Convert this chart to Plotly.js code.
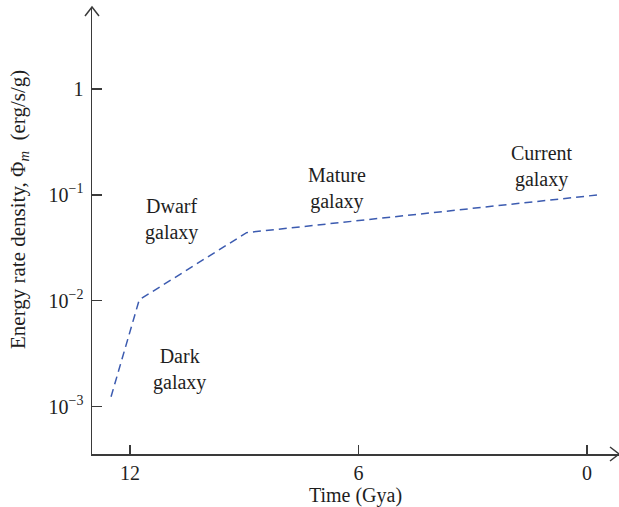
<!DOCTYPE html>
<html>
<head>
<meta charset="utf-8">
<script src="https://cdn.plot.ly/plotly-3.0.1.min.js"></script>
<style>html,body{margin:0;padding:0;background:#fff}#chart{width:619px;height:507px}</style>
</head>
<body>
<div id="chart"></div>
<script>
// Time (Gya) and energy rate density (erg/s/g)
const timeGya = [12.5, 11.76, 8.94, -0.3];
const energyRate = [0.00124, 0.0102, 0.044, 0.1];

const xTickVals = [12, 6, 0];
const xTickText = ["12", "6", "0"];
const yTickVals = [1, 0.1, 0.01, 0.001];
const yTickText = ["1", "10<sup>−1</sup>", "10<sup>−2</sup>", "10<sup>−3</sup>"];

const labelText = ["Dwarf<br>galaxy", "Dark<br>galaxy", "Mature<br>galaxy", "Current<br>galaxy"];
const labelX = [10.9, 10.69, 6.56, 1.18];
const labelY = [0.058, 0.00222, 0.1138, 0.1854];

const serif = "Liberation Serif, Times New Roman, serif";
const axisColor = "#3a3a3a";
const textColor = "#1e1e1e";

const trace = {
  x: timeGya, y: energyRate, type: "scatter", mode: "lines",
  line: {color: "#3c5bb0", width: 1.5, dash: "8px,5px"},
  hoverinfo: "skip"
};

const annotations = labelText.map((t, i) => ({
  text: t, x: labelX[i], y: Math.log10(labelY[i]), xref: "x", yref: "y",
  showarrow: false, font: {family: serif, size: 20, color: textColor}, align: "center"
}));
annotations.push({
  text: "Energy rate density, Φ<sub><i>m</i></sub>  (erg/s/g)",
  xref: "paper", yref: "paper", x: -73/527, y: (454-210)/447,
  xanchor: "center", yanchor: "middle", textangle: -90, showarrow: false,
  font: {family: serif, size: 21, color: textColor}
});

const layout = {
  width: 619, height: 507,
  margin: {l: 92, r: 0, t: 7, b: 53},
  paper_bgcolor: "#fff", plot_bgcolor: "#fff",
  showlegend: false,
  font: {family: serif, size: 19, color: textColor},
  xaxis: {
    range: [13.0, -0.84], showgrid: false, zeroline: false,
    showline: true, linecolor: axisColor, linewidth: 1.5,
    ticks: "inside", ticklen: 9, tickwidth: 1.3, tickcolor: axisColor,
    tickvals: xTickVals, ticktext: xTickText,
    tickfont: {family: serif, size: 20, color: textColor},
    title: {text: "Time (Gya)", font: {family: serif, size: 20, color: textColor}, standoff: 0}
  },
  yaxis: {
    type: "log", range: [-3.447, 0.774], showgrid: false, zeroline: false,
    showline: true, linecolor: axisColor, linewidth: 1.5,
    ticks: "inside", ticklen: 10, tickwidth: 1.3, tickcolor: axisColor,
    tickvals: yTickVals, ticktext: yTickText,
    tickfont: {family: serif, size: 20, color: textColor},
    ticklabelstandoff: 3
  },
  annotations: annotations,
  shapes: [
    {type: "path", xref: "paper", yref: "paper", xsizemode: "pixel", ysizemode: "pixel",
     xanchor: 0, yanchor: 1, path: "M -7,-9 L 0,0 L 7,-9",
     line: {color: axisColor, width: 1.5}},
    {type: "path", xref: "paper", yref: "paper", xsizemode: "pixel", ysizemode: "pixel",
     xanchor: 1, yanchor: 0, path: "M -9,7 L 0,0 L -9,-7",
     line: {color: axisColor, width: 1.5}}
  ]
};

Plotly.newPlot("chart", [trace], layout, {displayModeBar: false, staticPlot: true});
</script>
</body>
</html>
